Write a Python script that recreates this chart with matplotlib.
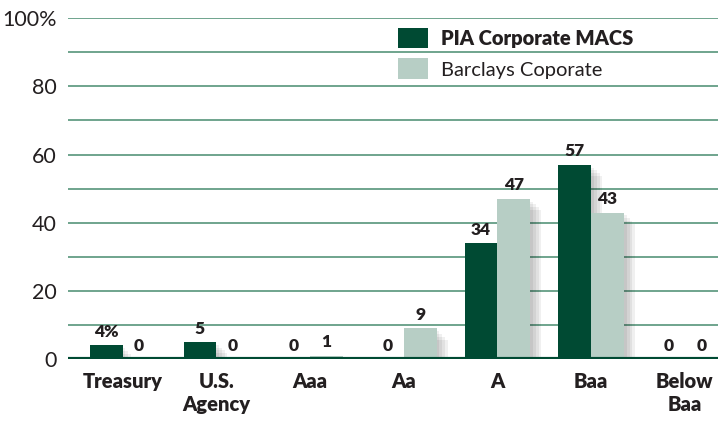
import matplotlib
matplotlib.use("Agg")
import matplotlib.pyplot as plt
import matplotlib.patheffects as pe
import numpy as np

# Chart data
categories = ["Treasury", "U.S.\nAgency", "Aaa", "Aa", "A", "Baa", "Below\nBaa"]
pia_values = [4, 5, 0, 0, 34, 57, 0]
barclays_values = [0, 0, 1, 9, 47, 43, 0]
pia_labels = ["4%", "5", "0", "0", "34", "57", "0"]
barclays_labels = ["0", "0", "1", "9", "47", "43", "0"]
y_ticks = [0, 20, 40, 60, 80, 100]
y_tick_labels = ["0", "20", "40", "60", "80", "100%"]

dark = "#004a33"
light = "#b7cec5"
grid_col = "#6fa48d"
text_col = "#231f20"

plt.rcParams["font.family"] = ["Lato", "DejaVu Sans"]

fig = plt.figure(figsize=(7.22, 4.22), dpi=100)
ax = fig.add_axes([0.094, 0.149, 0.900, 0.808])

x = np.arange(len(categories))
w = 0.35
# soft drop shadow built from a few faint offset copies
shadow = [pe.SimplePatchShadow(offset=(d, -d), shadow_rgbFace="#000000", alpha=0.06)
          for d in (2, 4, 6, 8)] + [pe.Normal()]

b1 = ax.bar(x - w / 2, pia_values, w, color=dark, label="PIA Corporate MACS",
            zorder=3)
b2 = ax.bar(x + w / 2, barclays_values, w, color=light, label="Barclays Coporate",
            zorder=3)
for bar in list(b1) + list(b2):
    bar.set_path_effects(shadow)

# value labels
for xi, v, t in zip(x - w / 2, pia_values, pia_labels):
    ax.annotate(t, (xi, v), xytext=(0, 4), textcoords="offset points",
                ha="center", va="bottom", fontsize=12.5, fontweight="heavy",
                color=text_col, zorder=5)
for xi, v, t in zip(x + w / 2, barclays_values, barclays_labels):
    ax.annotate(t, (xi, v), xytext=(0, 4), textcoords="offset points",
                ha="center", va="bottom", fontsize=12.5, fontweight="heavy",
                color=text_col, zorder=5)

# gridlines every 10
for g in range(10, 101, 10):
    ax.axhline(g, color=grid_col, lw=1.4, zorder=1)
ax.axhline(0, color=dark, lw=3, zorder=4)

ax.set_ylim(0, 100)
ax.set_xlim(-0.585, 6.35)
ax.set_yticks(y_ticks)
ax.set_yticklabels(y_tick_labels, fontsize=15.5, color=text_col)
ax.set_xticks(x)
ax.set_xticklabels(categories, fontsize=14.5, fontweight="heavy", color=text_col,
                   linespacing=1.25)
ax.tick_params(axis="both", length=0)
ax.tick_params(axis="y", pad=8)
ax.tick_params(axis="x", pad=9)
for s in ax.spines.values():
    s.set_visible(False)

leg = ax.legend(loc="upper left", bbox_to_anchor=(0.48, 1.025), frameon=False,
                fontsize=14.5, handlelength=1.5, handleheight=1.2,
                handletextpad=0.65, labelspacing=0.5)
for txt in leg.get_texts():
    txt.set_color(text_col)
leg.get_texts()[0].set_fontweight("heavy")
for h in leg.legend_handles:
    h.set_path_effects([])

plt.savefig("out.png", dpi=100)
